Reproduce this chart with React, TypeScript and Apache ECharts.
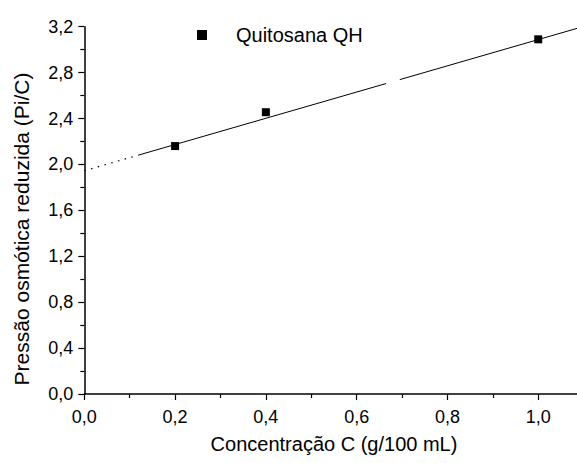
import React, { useEffect, useRef } from "react";
import * as echarts from "echarts";

// Measured data points: concentration C (g/100 mL) vs reduced osmotic pressure (Pi/C)
const concentrations = [0.2, 0.4, 1.0];
const reducedPressure = [2.16, 2.455, 3.09];

// Linear fit drawn in the figure (solid part, with a small gap, and dotted extrapolation to C = 0)
const fitSolidA = [[0.12, 2.082], [0.665, 2.705]];
const fitSolidB = [[0.695, 2.739], [1.12, 3.225]];
const fitExtrapolated = [[0.0, 1.945], [0.12, 2.082]];

const seriesName = "Quitosana QH";
const xTitle = "Concentração C (g/100 mL)";
const yTitle = "Pressão osmótica reduzida (Pi/C)";

const FONT = "'Liberation Sans', Arial, Helvetica, sans-serif";
const comma = (v: number) => v.toFixed(1).replace(".", ",");

// The x axis runs past the right edge of the 577 px picture (it is cut there in the reference)
const CHART_W = 629;

export default function App() {
  const ref = useRef<HTMLDivElement>(null);
  useEffect(() => {
    if (!ref.current) return;
    const chart = echarts.init(ref.current, undefined, { renderer: "svg" });
    const axisCommon = {
      axisLine: { show: true, lineStyle: { color: "#000", width: 1.5 } },
      axisTick: { show: true, inside: false, length: 6, lineStyle: { color: "#000", width: 1.2 } },
      minorTick: { show: true, splitNumber: 2, length: 4, lineStyle: { color: "#000", width: 1.2 } },
      splitLine: { show: false },
      minorSplitLine: { show: false },
    };
    chart.setOption({
      animation: false,
      backgroundColor: "#fff",
      textStyle: { fontFamily: FONT },
      grid: { left: 84.3, top: 26.7, bottom: 69, right: 0, containLabel: false },
      legend: {
        show: true,
        left: 197,
        top: 25,
        padding: 0,
        icon: "rect",
        itemWidth: 10,
        itemHeight: 10,
        itemStyle: { color: "#000", opacity: 1 },
        data: [seriesName],
        textStyle: { fontFamily: FONT, fontSize: 20, color: "#000", padding: [0, 0, 0, 24] },
      },
      xAxis: {
        type: "value",
        min: 0,
        max: 1.2,
        interval: 0.2,
        ...axisCommon,
        axisLabel: {
          formatter: comma,
          fontFamily: FONT,
          fontSize: 18,
          color: "#000",
          margin: 14,
          showMaxLabel: false,
        },
      },
      yAxis: {
        type: "value",
        min: 0,
        max: 3.2,
        interval: 0.4,
        ...axisCommon,
        axisLabel: {
          formatter: comma,
          fontFamily: FONT,
          fontSize: 18,
          color: "#000",
          margin: 11,
        },
      },
      graphic: [
        {
          type: "text",
          x: 334,
          y: 444,
          style: {
            text: xTitle,
            font: `20px ${FONT}`,
            fill: "#000",
            align: "center",
            verticalAlign: "middle",
          },
        },
        {
          type: "text",
          x: 21,
          y: 229,
          rotation: Math.PI / 2,
          style: {
            text: yTitle,
            font: `21px ${FONT}`,
            fill: "#000",
            align: "center",
            verticalAlign: "middle",
          },
        },
      ],
      series: [
        {
          name: "fit",
          type: "line",
          data: fitSolidA,
          showSymbol: false,
          symbol: "none",
          lineStyle: { color: "#000", width: 1 },
          silent: true,
          z: 2,
        },
        {
          name: "fit2",
          type: "line",
          data: fitSolidB,
          showSymbol: false,
          symbol: "none",
          lineStyle: { color: "#000", width: 1 },
          silent: true,
          z: 2,
        },
        {
          name: "extrapolation",
          type: "line",
          data: fitExtrapolated,
          showSymbol: false,
          symbol: "none",
          lineStyle: { color: "#000", width: 1.2, type: [1.5, 5.5] },
          silent: true,
          z: 2,
        },
        {
          name: seriesName,
          type: "scatter",
          symbol: "rect",
          symbolSize: 8,
          itemStyle: { color: "#000", opacity: 1 },
          data: concentrations.map((c, i) => [c, reducedPressure[i]]),
          z: 3,
        },
      ],
    });
    return () => chart.dispose();
  }, []);
  return (
    <div
      ref={ref}
      style={{ position: "fixed", left: 0, top: 0, width: CHART_W, height: 463, background: "#fff" }}
    />
  );
}
